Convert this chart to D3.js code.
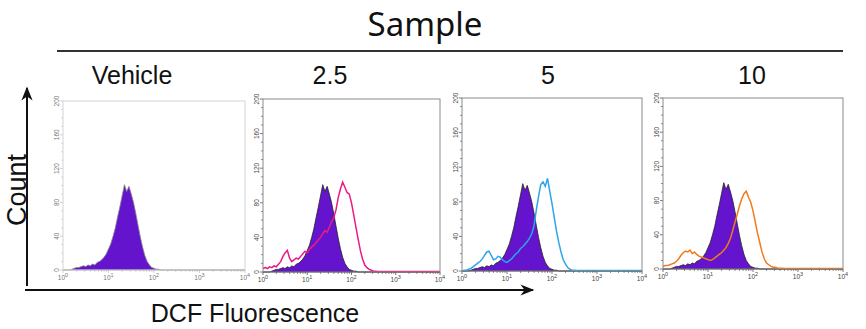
<!DOCTYPE html>
<html><head><meta charset="utf-8">
<script src="https://cdn.jsdelivr.net/npm/d3@7"></script>
<style>body{margin:0;background:#fff}svg{display:block}</style>
</head><body>
<svg id="c" width="866" height="329"></svg>
<script>
// ---- data ----
const title = "Sample";
const panelLabels = ["Vehicle", "2.5", "5", "10"];
const xAxisTitle = "DCF Fluorescence";
const yAxisTitle = "Count";
const yTicks = [0, 40, 80, 120, 160, 200];
const xTickExponents = [0, 1, 2, 3, 4];
// bin centres, log10 of fluorescence
const logBins = [0.00,0.05,0.10,0.15,0.20,0.25,0.30,0.35,0.40,0.45,0.50,0.55,0.60,0.65,0.70,0.75,0.80,0.85,0.90,0.95,
  1.00,1.05,1.10,1.15,1.20,1.25,1.30,1.35,1.40,1.45,1.50,1.55,1.60,1.65,1.70,1.75,1.80,1.85,1.90,1.95,
  2.00,2.05,2.10,2.15,2.20,2.25,2.30,2.35,2.40,2.45,2.50,2.55,2.60,2.65,2.70,2.75,2.80,2.85,2.90,2.95,3.00,4.00];
const vehicleCounts = [0,0,0,0,1,2,3,3,4,5,4,6,5,7,6,9,10,12,15,19,
  25,31,40,50,63,75,88,101,93,99,90,80,67,53,39,27,17,10,6,3,
  2,1,1,0,0,0,0,0,0,0,0,0,0,0,0,0,0,0,0,0,0,0];
const dose25Counts = [4,5,4,6,5,7,6,9,12,18,22,25,16,12,14,16,15,18,21,24,
  22,26,29,31,34,37,40,44,48,46,52,58,63,72,86,96,104,98,92,90,
  80,66,52,38,25,15,8,5,3,2,1,1,0.5,0.5,0.5,0.5,0.5,0.5,0.5,0.5,0.5,0.5];
const dose5Counts = [0,1,1,2,3,5,7,9,11,14,18,22,23,18,13,14,17,16,13,11,
  10,12,14,17,20,22,26,28,31,34,38,43,52,70,86,100,103,98,107,92,
  78,62,46,33,22,13,8,4,2,1,1,0.5,0.5,0.5,0.5,0.5,0.5,0.5,0.5,0.5,0.5,0.5];
const dose10Counts = [3,4,4,5,6,7,9,12,16,19,21,20,22,18,20,17,15,14,13,12,
  11,10,11,13,15,17,19,22,25,30,36,45,55,64,74,82,88,91,84,78,
  68,55,42,31,20,12,7,5,3,2,2,1,1,1,0.5,0.5,0.5,0.5,0.5,0.5,0.5,0.5];
const sampleSeries = [null, dose25Counts, dose5Counts, dose10Counts];
const sampleColors = [null, "#ec1a86", "#2aa6ec", "#f27a1c"];

// ---- layout ----
const svg = d3.select("#c");
const panels = [
  {l:63, r:245, t:101, b:270, light:true},
  {l:263, r:440, t:99, b:272},
  {l:462, r:642, t:98, b:271},
  {l:663, r:843, t:98, b:269}
];
const labelX = [132, 330, 548, 752];
const FONT = "'Liberation Sans', Arial, sans-serif";

// title
svg.append("text").attr("x", 425).attr("y", 36).attr("text-anchor", "middle")
  .attr("font-family", "'Noto Sans', 'Open Sans', sans-serif").attr("font-size", 33)
  .attr("fill", "#111").text(title);
svg.append("line").attr("x1", 57).attr("x2", 843).attr("y1", 51).attr("y2", 51)
  .attr("stroke", "#333").attr("stroke-width", 2);

panelLabels.forEach((t, i) => {
  svg.append("text").attr("x", labelX[i]).attr("y", 84).attr("text-anchor", "middle")
    .attr("font-family", FONT).attr("font-size", 25).attr("fill", "#111").text(t);
});

// arrows
const defs = svg.append("defs");
defs.append("marker").attr("id", "ah").attr("viewBox", "0 0 10 10").attr("refX", 9).attr("refY", 5)
  .attr("markerWidth", 8).attr("markerHeight", 7).attr("markerUnits", "strokeWidth").attr("orient", "auto")
  .append("path").attr("d", "M0,1 L10,5 L0,9 L3,5 Z").attr("fill", "#111");
svg.append("line").attr("x1", 27).attr("y1", 286).attr("x2", 27).attr("y2", 88)
  .attr("stroke", "#111").attr("stroke-width", 2).attr("marker-end", "url(#ah)");
svg.append("line").attr("x1", 25).attr("y1", 290).attr("x2", 533).attr("y2", 290)
  .attr("stroke", "#111").attr("stroke-width", 2).attr("marker-end", "url(#ah)");

svg.append("text").attr("transform", "translate(26,190) rotate(-90)").attr("text-anchor", "middle")
  .attr("font-family", FONT).attr("font-size", 27).attr("fill", "#111").text(yAxisTitle);
svg.append("text").attr("x", 255).attr("y", 322).attr("text-anchor", "middle")
  .attr("font-family", FONT).attr("font-size", 25).attr("fill", "#111").text(xAxisTitle);

// panels
panels.forEach((p, i) => {
  const x = d3.scaleLog().domain([1, 10000]).range([p.l, p.r]);
  const y = d3.scaleLinear().domain([0, 200]).range([p.b, p.t]);
  const g = svg.append("g");
  const frameCol = p.light ? "#d4d4d4" : "#8a8a8a";
  const tickCol = p.light ? "#c4c4c4" : "#555";

  // minor y ticks
  const yMinor = d3.range(0, 201, 10);
  g.selectAll(".ym").data(yMinor).join("line")
    .attr("x1", p.l).attr("x2", d => p.l - (d % 40 === 0 ? 3 : 1.8))
    .attr("y1", d => y(d)).attr("y2", d => y(d)).attr("stroke", tickCol).attr("stroke-width", 0.8);
  // minor x ticks
  const xMinor = x.ticks(40);
  g.selectAll(".xm").data(xMinor).join("line")
    .attr("x1", d => x(d)).attr("x2", d => x(d))
    .attr("y1", p.b).attr("y2", d => p.b + (Math.log10(d) % 1 === 0 ? 3 : 1.8))
    .attr("stroke", tickCol).attr("stroke-width", 0.8);

  // y tick labels
  g.selectAll(".yl").data(yTicks).join("text")
    .attr("transform", d => `translate(${p.l - 4.5},${y(d)}) rotate(-90)`)
    .attr("text-anchor", "middle").attr("font-family", FONT).attr("font-size", 6.5)
    .attr("fill", p.light ? "#777" : "#444").text(d => d);
  // x tick labels
  const xl = g.selectAll(".xl").data(xTickExponents).join("text")
    .attr("x", d => x(Math.pow(10, d))).attr("y", p.b + 10).attr("text-anchor", "middle")
    .attr("font-family", FONT).attr("font-size", 6.5).attr("fill", p.light ? "#777" : "#444");
  xl.append("tspan").text("10");
  xl.append("tspan").attr("dy", -3).attr("font-size", 5.5).text(d => d);

  // vehicle filled histogram
  const pts = logBins.map((lb, k) => ({f: Math.pow(10, lb), c: vehicleCounts[k]}));
  const area = d3.area().x(d => x(d.f)).y0(p.b).y1(d => y(d.c)).curve(d3.curveLinear);
  g.append("path").datum(pts).attr("d", area).attr("fill", "#6414cc")
    .attr("stroke", p.light ? "#888" : "#222").attr("stroke-width", 0.8);

  // sample line
  if (sampleSeries[i]) {
    const sp = logBins.map((lb, k) => ({f: Math.pow(10, lb), c: sampleSeries[i][k]}));
    const line = d3.line().x(d => x(d.f)).y(d => y(d.c));
    g.append("path").datum(sp).attr("d", line).attr("fill", "none")
      .attr("stroke", sampleColors[i]).attr("stroke-width", 1.5);
  }

  // frame
  g.append("rect").attr("x", p.l).attr("y", p.t).attr("width", p.r - p.l).attr("height", p.b - p.t)
    .attr("fill", "none").attr("stroke", frameCol).attr("stroke-width", 1);
});
</script>
</body></html>
